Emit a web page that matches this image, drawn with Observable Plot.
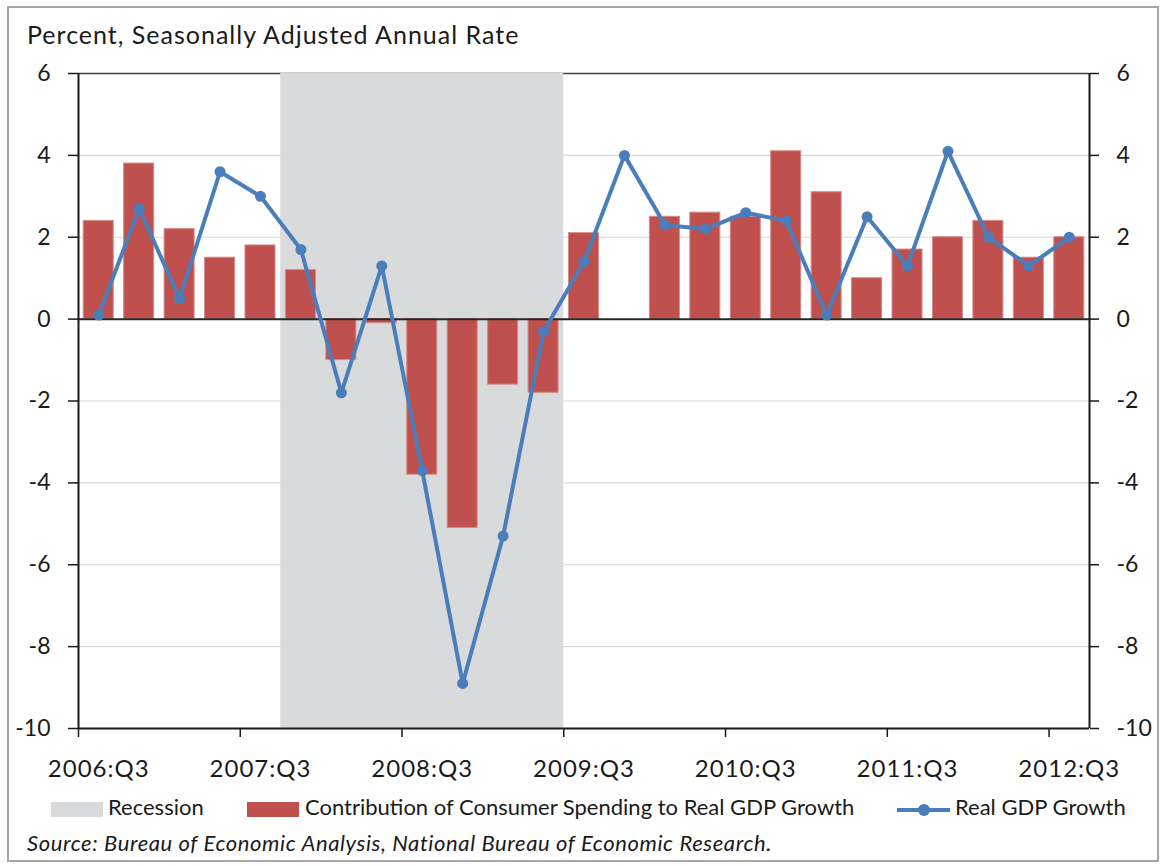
<!DOCTYPE html>
<html>
<head>
<meta charset="utf-8">
<script src="https://cdn.jsdelivr.net/npm/d3@7"></script>
<script src="https://cdn.jsdelivr.net/npm/@observablehq/plot@0.6"></script>
<style>
  html, body { margin: 0; padding: 0; background: #fff; }
  #wrap { position: relative; width: 1161px; height: 866px; font-family: Lato, "Open Sans", sans-serif; color: #1a1a1a; }
  #frame { position: absolute; left: 7px; top: 6px; width: 1148px; height: 852px; border: 2px solid #a6a6a6; }
  #title { position: absolute; left: 27px; top: 19px; font-size: 25px; letter-spacing: 1px; line-height: 1.2; white-space: nowrap; }
  #chart { position: absolute; left: 0; top: 0; }
  .leg { position: absolute; font-size: 22px; line-height: 1.2; white-space: nowrap; top: 794px; }
  .sw { position: absolute; }
  #source { position: absolute; left: 27px; top: 830px; font-size: 22px; letter-spacing: 0.6px; font-style: italic; line-height: 1.2; white-space: nowrap; }
</style>
</head>
<body>
<div id="wrap">
  <div id="frame"></div>
  <div id="title">Percent, Seasonally Adjusted Annual Rate</div>
  <div id="chart"></div>
  <div class="sw" style="left:51px;top:802px;width:52px;height:15px;background:#D9DADC"></div>
  <div class="leg" style="left:108px">Recession</div>
  <div class="sw" style="left:247px;top:802px;width:52px;height:15px;background:#C0504D"></div>
  <div class="leg" style="left:305px">Contribution of Consumer Spending to Real GDP Growth</div>
  <div class="sw" style="left:897px;top:807.5px;width:53px;height:4px;background:#4A7EBB"></div>
  <div class="sw" style="left:917.5px;top:803.5px;width:12px;height:12px;border-radius:50%;background:#4A7EBB"></div>
  <div class="leg" style="left:955px">Real GDP Growth</div>
  <div id="source">Source: Bureau of Economic Analysis, National Bureau of Economic Research.</div>
</div>
<script>
const quarters = [
  "2006:Q3","2006:Q4","2007:Q1","2007:Q2","2007:Q3","2007:Q4","2008:Q1","2008:Q2",
  "2008:Q3","2008:Q4","2009:Q1","2009:Q2","2009:Q3","2009:Q4","2010:Q1","2010:Q2",
  "2010:Q3","2010:Q4","2011:Q1","2011:Q2","2011:Q3","2011:Q4","2012:Q1","2012:Q2","2012:Q3"
];
const consumerContribution = [
  2.4, 3.8, 2.2, 1.5, 1.8, 1.2, -1.0, -0.1,
  -3.8, -5.1, -1.6, -1.8, 2.1, 0.0, 2.5, 2.6,
  2.5, 4.1, 3.1, 1.0, 1.7, 2.0, 2.4, 1.5, 2.0
];
const realGdpGrowth = [
  0.1, 2.7, 0.5, 3.6, 3.0, 1.7, -1.8, 1.3,
  -3.7, -8.9, -5.3, -0.3, 1.4, 4.0, 2.3, 2.2,
  2.6, 2.4, 0.1, 2.5, 1.3, 4.1, 2.0, 1.3, 2.0
];
const recessionStart = "2007:Q4";
const recessionEnd = "2009:Q2";
const yTicks = [-10, -8, -6, -4, -2, 0, 2, 4, 6];
const xTickLabels = ["2006:Q3","2007:Q3","2008:Q3","2009:Q3","2010:Q3","2011:Q3","2012:Q3"];

const data = quarters.map((q, i) => ({q, i, cons: consumerContribution[i], gdp: realGdpGrowth[i]}));
const half = 0.371;
const labelIdx = xTickLabels.map(l => quarters.indexOf(l));
const boundaryIdx = labelIdx.map(i => i - 0.5);
const recession = [{x1: quarters.indexOf(recessionStart) - 0.5, x2: quarters.indexOf(recessionEnd) + 0.5}];
const xDomain = [-0.5, quarters.length - 0.5];

const chart = Plot.plot({
  width: 1161,
  height: 790,
  marginTop: 73,
  marginBottom: 62,
  marginLeft: 78,
  marginRight: 72,
  style: {fontFamily: "Lato, 'Open Sans', sans-serif", fontSize: "22px", color: "#1a1a1a", background: "transparent", overflow: "visible"},
  x: {type: "linear", domain: xDomain},
  y: {domain: [-10, 6]},
  marks: [
    Plot.ruleY(yTicks.filter(t => t !== 0 && t !== -10 && t !== 6), {stroke: "#d9d9d9", strokeWidth: 1.2}),
    Plot.ruleY([6], {stroke: "#404040", strokeWidth: 1.5}),
    Plot.rect(recession, {x1: "x1", x2: "x2", y1: -10, y2: 6, fill: "#D9DADC"}),
    Plot.rectY(data, {x1: d => d.i - half, x2: d => d.i + half, y1: 0, y2: "cons", fill: "#C0504D", stroke: "#D48A88", strokeWidth: 1}),
    Plot.ruleY([0], {stroke: "#262626", strokeWidth: 2}),
    Plot.ruleY([-10], {stroke: "#1a1a1a", strokeWidth: 2}),
    Plot.ruleX(xDomain, {stroke: "#1a1a1a", strokeWidth: 2}),
    Plot.line(data, {x: "i", y: "gdp", stroke: "#4A7EBB", strokeWidth: 4}),
    Plot.dot(data, {x: "i", y: "gdp", r: 5.5, fill: "#4A7EBB"}),
    Plot.axisY({anchor: "left", ticks: yTicks, tickSize: 10, tickPadding: 18, stroke: "#1a1a1a", strokeWidth: 1.5, fontSize: 23, tickFormat: d => String(d)}),
    Plot.axisY({anchor: "right", ticks: yTicks, tickSize: 9, tickPadding: 18, stroke: "#1a1a1a", strokeWidth: 1.5, fontSize: 23, tickFormat: d => String(d)}),
    Plot.axisX({ticks: boundaryIdx, tickSize: 9, tickFormat: () => "", stroke: "#1a1a1a", strokeWidth: 1.5}),
    Plot.axisX({ticks: labelIdx, tickSize: 0, tickPadding: 31, fontSize: 24, tickFormat: i => quarters[i]})
  ]
});
d3.select(chart).selectAll("g[aria-label='x-axis tick label'] text").style("letter-spacing", "1px");
document.getElementById("chart").appendChild(chart);
</script>
</body>
</html>
